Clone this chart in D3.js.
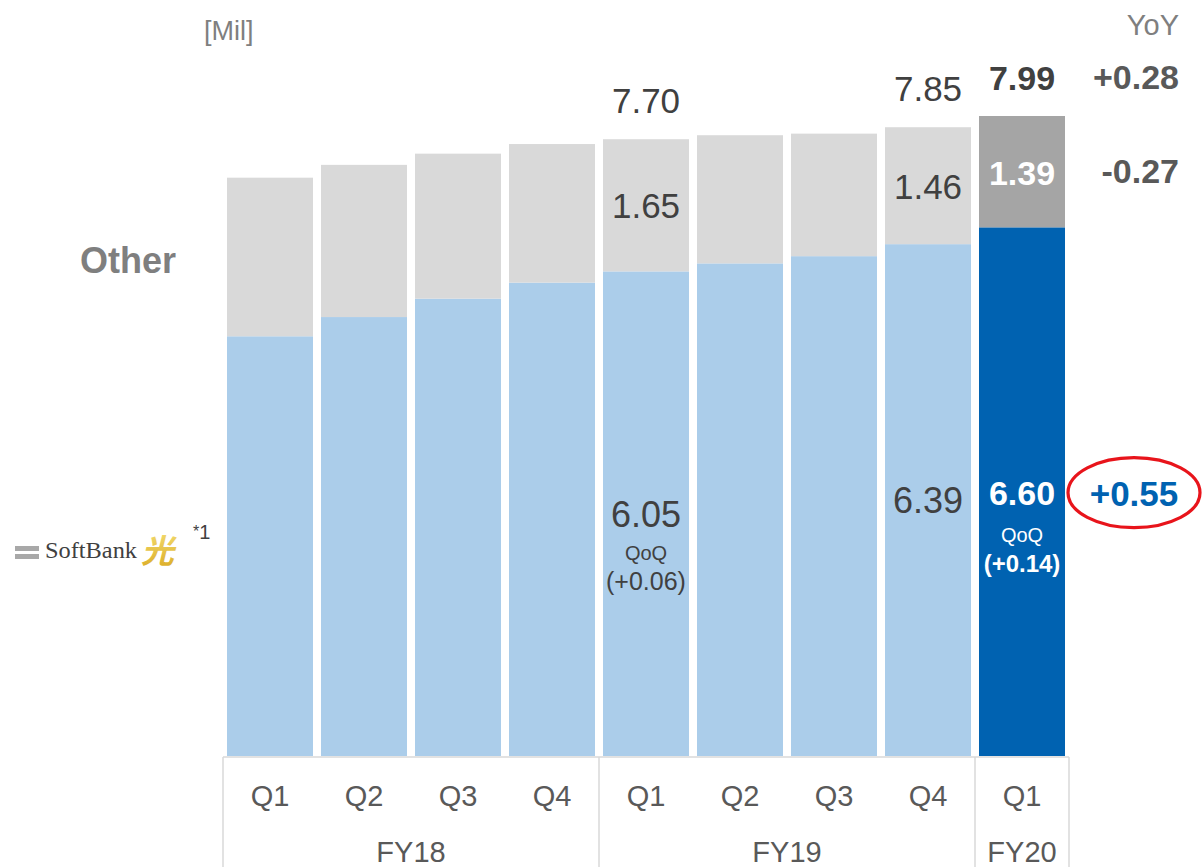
<!DOCTYPE html>
<html>
<head>
<meta charset="utf-8">
<script src="https://cdn.jsdelivr.net/npm/d3@7"></script>
<style>
  html, body { margin: 0; padding: 0; background: #fff; }
  svg { display: block; font-family: "Liberation Sans", Arial, sans-serif; }
</style>
</head>
<body>
<svg id="chart" width="1204" height="867"></svg>
<script>
// ---- Data ----
const quarters = ["Q1", "Q2", "Q3", "Q4", "Q1", "Q2", "Q3", "Q4", "Q1"];
const fiscalYears = ["FY18", "FY18", "FY18", "FY18", "FY19", "FY19", "FY19", "FY19", "FY20"];
const fyGroups = ["FY18", "FY19", "FY20"];
const softbankHikari = [5.24, 5.48, 5.71, 5.91, 6.05, 6.15, 6.24, 6.39, 6.60];
const otherValues = [1.98, 1.90, 1.81, 1.73, 1.65, 1.60, 1.53, 1.46, 1.39];
const totalLabels = ["", "", "", "", "7.70", "", "", "7.85", "7.99"];
const otherLabels = ["", "", "", "", "1.65", "", "", "1.46", "1.39"];
const hikariLabels = ["", "", "", "", "6.05", "", "", "6.39", "6.60"];
const qoqLabels = ["", "", "", "", "(+0.06)", "", "", "", "(+0.14)"];
const yoyTotal = "+0.28";
const yoyOther = "-0.27";
const yoyHikari = "+0.55";

// ---- Layout ----
const svg = d3.select("#chart");
const ids = quarters.map((q, i) => i);
const x = d3.scaleBand().domain(ids).range([223, 1069]).paddingInner(0.085).paddingOuter(0.0425);
const y = d3.scaleLinear().domain([0, 7.99]).range([756, 116]);
const last = ids.length - 1;

const colHikari = "#ABCDEA", colOther = "#D9D9D9";
const colHikariHi = "#0062B1", colOtherHi = "#A5A5A5";
const textDark = "#404040";

// bars
const g = svg.append("g");
g.selectAll("rect.h").data(ids).join("rect")
  .attr("x", i => x(i)).attr("width", x.bandwidth())
  .attr("y", i => y(softbankHikari[i]))
  .attr("height", i => y(0) - y(softbankHikari[i]))
  .attr("fill", i => i === last ? colHikariHi : colHikari);
g.selectAll("rect.o").data(ids).join("rect")
  .attr("x", i => x(i)).attr("width", x.bandwidth())
  .attr("y", i => y(softbankHikari[i] + otherValues[i]))
  .attr("height", i => y(softbankHikari[i]) - y(softbankHikari[i] + otherValues[i]))
  .attr("fill", i => i === last ? colOtherHi : colOther);

const cx = i => x(i) + x.bandwidth() / 2;

// value labels
ids.forEach(i => {
  const total = softbankHikari[i] + otherValues[i];
  const hl = i === last;
  if (totalLabels[i]) {
    svg.append("text").attr("x", cx(i)).attr("y", y(total) - 26)
      .attr("text-anchor", "middle").attr("font-size", hl ? 34 : 35)
      .attr("font-weight", hl ? "bold" : "normal")
      .attr("fill", textDark).text(totalLabels[i]);
  }
  if (otherLabels[i]) {
    const mid = (y(total) + y(softbankHikari[i])) / 2;
    svg.append("text").attr("x", cx(i)).attr("y", mid + 13)
      .attr("text-anchor", "middle").attr("font-size", hl ? 34 : 35)
      .attr("font-weight", hl ? "bold" : "normal")
      .attr("fill", hl ? "#fff" : textDark).text(otherLabels[i]);
  }
  const base = (y(softbankHikari[i]) + y(0)) / 2 + 13;
  if (hikariLabels[i]) {
    svg.append("text").attr("x", cx(i)).attr("y", base)
      .attr("text-anchor", "middle").attr("font-size", hl ? 34 : 36)
      .attr("font-weight", hl ? "bold" : "normal")
      .attr("fill", hl ? "#fff" : textDark).text(hikariLabels[i]);
  }
  if (qoqLabels[i]) {
    svg.append("text").attr("x", cx(i)).attr("y", base + (hl ? 37 : 33))
      .attr("text-anchor", "middle").attr("font-size", 20)
      .attr("fill", hl ? "#fff" : textDark).text("QoQ");
    svg.append("text").attr("x", cx(i)).attr("y", base + (hl ? 67 : 63))
      .attr("text-anchor", "middle").attr("font-size", hl ? 24 : 25)
      .attr("font-weight", hl ? "bold" : "normal")
      .attr("fill", hl ? "#fff" : textDark).text(qoqLabels[i]);
  }
});

// YoY column
const yoyX = 1179;
svg.append("text").attr("x", yoyX).attr("y", 35).attr("text-anchor", "end")
  .attr("font-size", 29).attr("fill", "#7F7F7F").text("YoY");
svg.append("text").attr("x", yoyX).attr("y", y(softbankHikari[last] + otherValues[last]) - 27)
  .attr("text-anchor", "end").attr("font-size", 34).attr("font-weight", "bold")
  .attr("fill", "#595959").text(yoyTotal);
svg.append("text").attr("x", yoyX).attr("y", (y(softbankHikari[last] + otherValues[last]) + y(softbankHikari[last])) / 2 + 11)
  .attr("text-anchor", "end").attr("font-size", 34).attr("font-weight", "bold")
  .attr("fill", "#595959").text(yoyOther);
const hikMid = (y(softbankHikari[last]) + y(0)) / 2;
svg.append("ellipse").attr("cx", 1134).attr("cy", hikMid + 1).attr("rx", 66).attr("ry", 35)
  .attr("fill", "none").attr("stroke", "#E8141B").attr("stroke-width", 3.2);
svg.append("text").attr("x", 1134).attr("y", hikMid + 14)
  .attr("text-anchor", "middle").attr("font-size", 35).attr("font-weight", "bold")
  .attr("fill", colHikariHi).text(yoyHikari);

// Axis box
const axisY = 757, axisBottom = 867;
const lineCol = "#D9D9D9";
const step = x.step();
const xl = x(0) - (step - x.bandwidth()) / 2;
const xr = x(last) + x.bandwidth() + (step - x.bandwidth()) / 2;
svg.append("line").attr("x1", xl).attr("x2", xr).attr("y1", axisY).attr("y2", axisY)
  .attr("stroke", lineCol).attr("stroke-width", 1.5);
const boundaries = [xl];
ids.forEach(i => { if (i > 0 && fiscalYears[i] !== fiscalYears[i - 1]) boundaries.push(x(i) - (step - x.bandwidth()) / 2); });
boundaries.push(xr);
boundaries.forEach(bx => svg.append("line").attr("x1", bx).attr("x2", bx)
  .attr("y1", axisY).attr("y2", axisBottom).attr("stroke", lineCol).attr("stroke-width", 1.5));

svg.selectAll("text.q").data(ids).join("text")
  .attr("x", i => cx(i)).attr("y", 806).attr("text-anchor", "middle")
  .attr("font-size", 29).attr("fill", "#595959").text(i => quarters[i]);
fyGroups.forEach((fy, k) => {
  const a = boundaries[k], b = boundaries[k + 1];
  svg.append("text").attr("x", (a + b) / 2).attr("y", 862).attr("text-anchor", "middle")
    .attr("font-size", 29).attr("fill", "#595959").text(fy);
});

// Unit and series names
svg.append("text").attr("x", 204).attr("y", 40).attr("font-size", 27)
  .attr("fill", "#7F7F7F").text("[Mil]");
svg.append("text").attr("x", 80).attr("y", 273).attr("font-size", 36).attr("font-weight", "bold")
  .attr("fill", "#7F7F7F").text("Other");

// SoftBank Hikari logo
const logo = svg.append("g");
logo.append("rect").attr("x", 15).attr("y", 546).attr("width", 24).attr("height", 5).attr("fill", "#A8A8A8");
logo.append("rect").attr("x", 15).attr("y", 554).attr("width", 24).attr("height", 5).attr("fill", "#A8A8A8");
logo.append("text").attr("x", 45).attr("y", 558).attr("font-size", 24)
  .attr("font-family", "'Liberation Serif', 'DejaVu Serif', serif")
  .attr("textLength", 92).attr("lengthAdjust", "spacingAndGlyphs")
  .attr("fill", "#404040").text("SoftBank");
const defs = svg.append("defs");
const grad = defs.append("linearGradient").attr("id", "gold").attr("x1", 0).attr("y1", 0).attr("x2", 0).attr("y2", 1);
grad.append("stop").attr("offset", "0%").attr("stop-color", "#F6E27A");
grad.append("stop").attr("offset", "100%").attr("stop-color", "#D9A820");
logo.append("text").attr("x", 0).attr("y", 0)
  .attr("transform", "translate(141,563) skewX(-14)")
  .attr("font-size", 33).attr("font-weight", "bold")
  .attr("font-family", "'Noto Sans CJK JP', sans-serif")
  .attr("fill", "url(#gold)").text("光");
const note = svg.append("text").attr("x", 193).attr("y", 539).attr("fill", textDark);
note.append("tspan").attr("font-size", 16).attr("dy", -2).text("*");
note.append("tspan").attr("font-size", 20).attr("dy", 2).text("1");
</script>
</body>
</html>
